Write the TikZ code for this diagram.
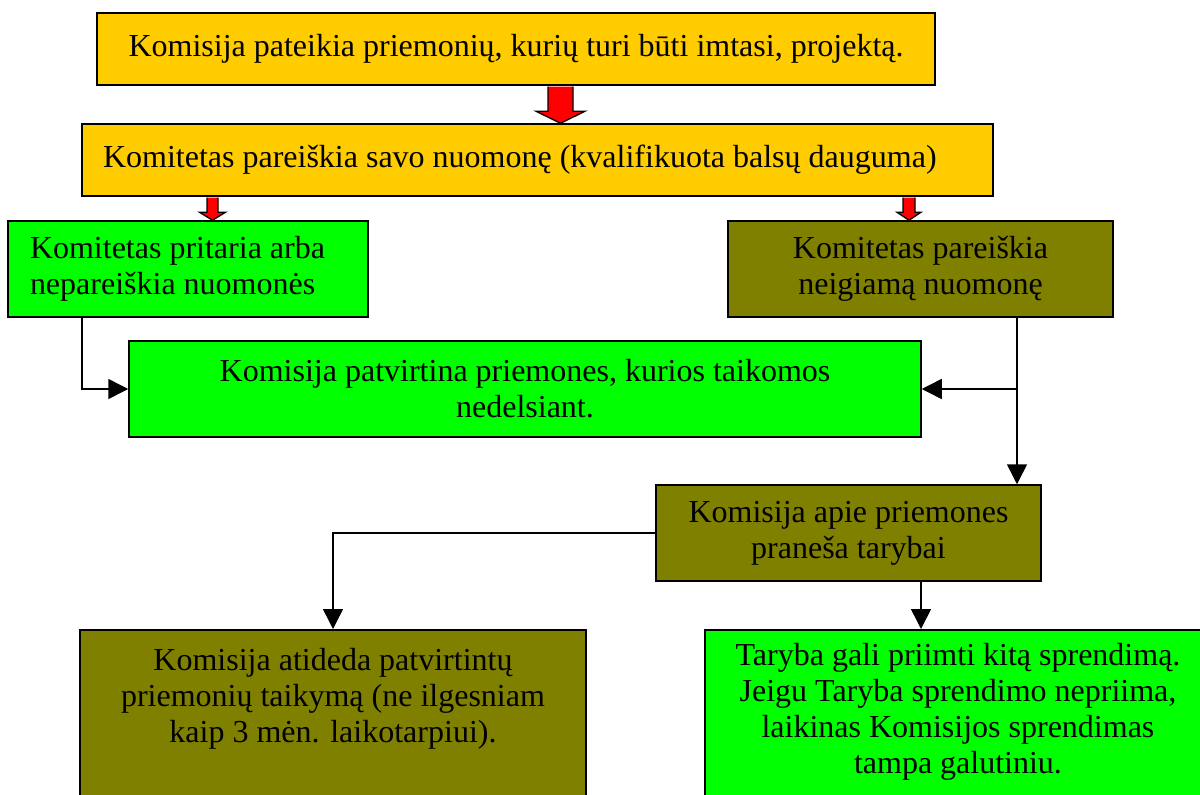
\documentclass[tikz,border=0pt]{standalone}
\usepackage{fontspec}
\setmainfont{Liberation Serif}
\usetikzlibrary{arrows.meta,calc}
\definecolor{boxyellow}{HTML}{FFCC00}
\definecolor{boxgreen}{HTML}{00FF00}
\definecolor{boxolive}{HTML}{808000}
\definecolor{arrred}{HTML}{FF0000}
\newcommand\blockarr[6]{%
  \coordinate (ba-t) at (#3,0 |- #1.south);
  \coordinate (ba-h) at (#3,0 |- #2.north);
  \draw[redarr] ($(ba-t)+(-#4,0.8)$) -- ($(ba-h)+(-#4,-#6)$) -- ($(ba-h)+(-#5,-#6)$) -- (ba-h)
     -- ($(ba-h)+(#5,-#6)$) -- ($(ba-h)+(#4,-#6)$) -- ($(ba-t)+(#4,0.8)$);
}
\begin{document}
\begin{tikzpicture}[x=1pt,y=-1pt,
  box/.style={draw=black, line width=1.5pt, inner sep=0pt, align=center,
    font=\fontsize{32}{36}\selectfont},
  conn/.style={draw=black, line width=1.5pt, -{Triangle[width=20pt,length=20pt]}},
  redarr/.style={draw=black, fill=arrred, line width=1.3pt, line join=miter}]
\useasboundingbox (0,0) rectangle (1200,795);
\fill[white] (0,0) rectangle (1200,795);
\clip (0,0) rectangle (1200,795);

\node[box, fill=boxyellow, minimum width=838pt, minimum height=72pt] (b1) at (516,49)
  {Komisija pateikia priemonių, kurių turi būti imtasi, projektą.};
\node[box, fill=boxyellow, align=flush left, text width=869pt, inner xsep=21pt, minimum height=72pt] (b2) at (537.5,160)
  {Komitetas pareiškia savo nuomonę (kvalifikuota balsų dauguma)};
\node[box, fill=boxgreen, align=flush left, text width=316pt, inner xsep=22pt, minimum height=96pt] (b3) at (188,269)
  {Komitetas pritaria arba\\nepareiškia nuomonės};
\node[box, fill=boxolive, minimum width=385pt, minimum height=96pt] (b5) at (920.5,269)
  {Komitetas pareiškia\\neigiamą nuomonę};
\node[box, fill=boxgreen, minimum width=792pt, minimum height=96pt] (b4) at (525,389)
  {Komisija patvirtina priemones, kurios taikomos\\nedelsiant.};
\node[box, fill=boxolive, minimum width=385pt, minimum height=96pt] (b6) at (848.5,533)
  {Komisija apie priemones\\praneša tarybai};
\node[box, fill=boxolive, anchor=north, minimum width=506pt, inner ysep=15.5pt] (b7) at (333,629)
  {\parbox[t][200pt][t]{480pt}{\centering\strut Komisija atideda patvirtintų\\priemonių taikymą (ne ilgesniam\\kaip 3 mėn. laikotarpiui).}};
\node[box, fill=boxgreen, anchor=north, minimum width=506pt, inner ysep=10.5pt] (b8) at (958,629)
  {\parbox[t][200pt][t]{490pt}{\centering\strut Taryba gali priimti kitą sprendimą.\\Jeigu Taryba sprendimo nepriima,\\laikinas Komisijos sprendimas\\tampa galutiniu.}};

\blockarr{b1}{b2}{560.5}{12.5}{24.5}{12}
\blockarr{b2}{b3}{212.5}{5.5}{13}{8}
\blockarr{b2}{b5}{909}{6}{12}{8}

\draw[conn] (b3.south -| 82,0) |- (b4.west);
\draw[conn] (b5.south -| 1017,0) |- (b4.east);
\draw[conn] (b5.south -| 1017,0) -- (b6.north -| 1017,0);
\draw[conn] (b6.west) -| (b7.north);
\draw[conn] (b6.south -| 921,0) -- (b8.north -| 921,0);
\end{tikzpicture}
\end{document}
